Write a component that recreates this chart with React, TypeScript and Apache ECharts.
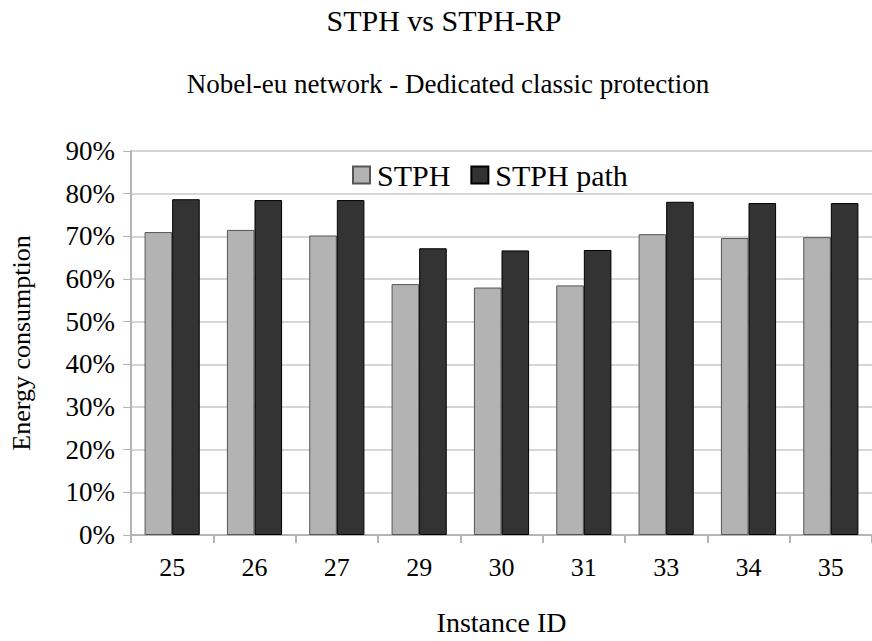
import React, { useEffect, useRef } from "react";
import * as echarts from "echarts";

const categories = ["25", "26", "27", "29", "30", "31", "33", "34", "35"];
const stph = [71.0, 71.5, 70.2, 58.8, 58.0, 58.5, 70.5, 69.6, 69.8];
const stphPath = [78.7, 78.5, 78.5, 67.2, 66.7, 66.8, 78.1, 77.8, 77.8];
const seriesNames = ["STPH", "STPH path"];
const titleText = "STPH vs STPH-RP";
const subtitleText = "Nobel-eu network - Dedicated classic protection";

const FONT = '"Liberation Serif", "Times New Roman", serif';

export default function App() {
  const ref = useRef<HTMLDivElement>(null);
  useEffect(() => {
    document.body.style.margin = "0";
    if (!ref.current) return;
    const chart = echarts.init(ref.current, undefined, { renderer: "svg" });
    chart.setOption({
      animation: false,
      backgroundColor: "#ffffff",
      textStyle: { fontFamily: FONT, color: "#000" },
      title: [
        {
          text: titleText,
          left: 439,
          textAlign: "center",
          top: 0,
          textStyle: { fontFamily: FONT, fontSize: 30, fontWeight: "normal", color: "#000" },
        },
        {
          text: subtitleText,
          left: 443,
          textAlign: "center",
          top: 65,
          textStyle: { fontFamily: FONT, fontSize: 27, fontWeight: "normal", color: "#000" },
        },
      ],
      legend: {
        left: 347,
        top: 155,
        itemWidth: 17,
        itemHeight: 17,
        itemGap: 20,
        icon: "rect",
        textStyle: { fontFamily: FONT, fontSize: 30, color: "#000", padding: [0, 0, 0, 2] },
        data: seriesNames,
      },
      grid: { left: 131, right: -5, top: 151, bottom: 100, containLabel: false },
      xAxis: {
        type: "category",
        data: categories,
        name: "Instance ID",
        nameLocation: "middle",
        nameGap: 73,
        nameTextStyle: { fontFamily: FONT, fontSize: 28, color: "#000" },
        axisLine: { show: true, lineStyle: { color: "#b4b4b4", width: 2 } },
        axisTick: { show: true, length: 8, alignWithLabel: false, lineStyle: { color: "#b4b4b4", width: 2 } },
        axisLabel: { fontFamily: FONT, fontSize: 26, color: "#000", margin: 19 },
      },
      yAxis: {
        type: "value",
        min: 0,
        max: 90,
        interval: 10,
        name: "Energy consumption",
        nameLocation: "middle",
        nameGap: 97,
        nameRotate: 90,
        nameTextStyle: { fontFamily: FONT, fontSize: 26, color: "#000" },
        axisLine: { show: true, lineStyle: { color: "#b4b4b4", width: 2 } },
        axisTick: { show: true, length: 8, lineStyle: { color: "#b4b4b4", width: 1 } },
        axisLabel: { fontFamily: FONT, fontSize: 27, color: "#000", margin: 16, formatter: "{value}%" },
        splitLine: { show: true, lineStyle: { color: "#c8c8c8", width: 1.5 } },
      },
      series: [
        {
          name: seriesNames[0],
          type: "bar",
          data: stph,
          barGap: "0%",
          barCategoryGap: "33%",
          itemStyle: { color: "#b3b3b3", borderColor: "#555555", borderWidth: 1 },
        },
        {
          name: seriesNames[1],
          type: "bar",
          data: stphPath,
          barGap: "0%",
          barCategoryGap: "33%",
          itemStyle: { color: "#333333", borderColor: "#000000", borderWidth: 1 },
        },
      ],
    });
    return () => chart.dispose();
  }, []);
  return <div ref={ref} style={{ width: 872, height: 641 }} />;
}
